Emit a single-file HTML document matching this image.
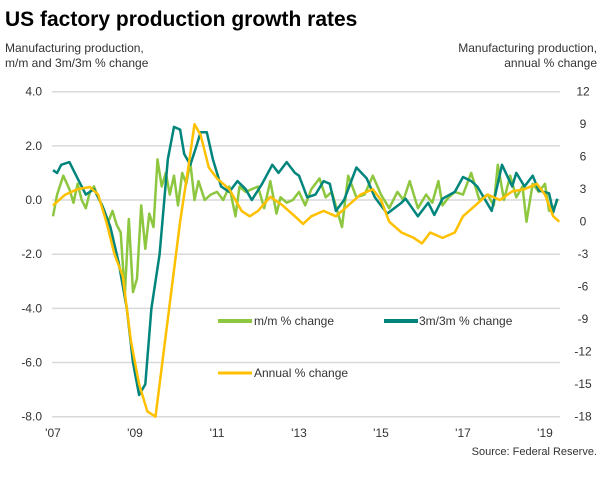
<!DOCTYPE html>
<html><head><meta charset="utf-8"><style>
body{margin:0;background:#fff;width:603px;height:474px;overflow:hidden;font-family:"Liberation Sans",Arial,sans-serif}
svg text{font-family:"Liberation Sans",Arial,sans-serif}
</style></head><body>
<svg id="c" width="603" height="474" xmlns="http://www.w3.org/2000/svg">
<text x="5" y="26" font-size="21" font-weight="bold" fill="#000">US factory production growth rates</text>
<text x="5" y="52" font-size="12" fill="#333">Manufacturing production,</text>
<text x="5" y="67" font-size="12" fill="#333">m/m and 3m/3m % change</text>
<text x="597" y="52" font-size="12" fill="#333" text-anchor="end">Manufacturing production,</text>
<text x="597" y="67" font-size="12" fill="#333" text-anchor="end">annual % change</text>
<text x="597" y="455" font-size="11" fill="#333" text-anchor="end">Source: Federal Reserve.</text>
<g id="grid"></g><g id="series"></g><g id="axes"></g>
<g>
<line x1="218" y1="321" x2="252" y2="321" stroke="#8DC63F" stroke-width="4"/>
<text x="254" y="325" font-size="12" fill="#333">m/m % change</text>
<line x1="384" y1="321" x2="418" y2="321" stroke="#00857C" stroke-width="4"/>
<text x="419" y="325" font-size="12" fill="#333">3m/3m % change</text>
<line x1="218" y1="373" x2="252" y2="373" stroke="#FFC000" stroke-width="3"/>
<text x="254" y="377" font-size="12" fill="#333">Annual % change</text>
</g>
</svg>
<script>
const leftTicks=[4,2,0,-2,-4,-6,-8];
const rightTicks=[12,9,6,3,0,-3,-6,-9,-12,-15,-18];
const xTickYears=[2007,2009,2011,2013,2015,2017,2019];
const xTickLabels=["'07","'09","'11","'13","'15","'17","'19"];
const mmDates=[2007.0,2007.1,2007.25,2007.4,2007.5,2007.6,2007.7,2007.8,2007.9,2008.0,2008.1,2008.25,2008.35,2008.45,2008.55,2008.65,2008.75,2008.85,2008.95,2009.05,2009.15,2009.25,2009.35,2009.45,2009.55,2009.65,2009.75,2009.85,2009.95,2010.05,2010.15,2010.25,2010.35,2010.45,2010.55,2010.7,2010.85,2011.0,2011.15,2011.3,2011.45,2011.55,2011.7,2011.85,2012.0,2012.15,2012.3,2012.45,2012.55,2012.7,2012.85,2013.0,2013.15,2013.3,2013.5,2013.65,2013.8,2014.05,2014.2,2014.4,2014.6,2014.8,2015.0,2015.2,2015.4,2015.55,2015.7,2015.9,2016.1,2016.25,2016.4,2016.5,2016.65,2016.8,2017.0,2017.2,2017.4,2017.6,2017.75,2017.85,2018.0,2018.15,2018.3,2018.45,2018.55,2018.7,2018.85,2019.0,2019.1,2019.25,2019.3];
const mmValues=[-0.6,0.2,0.9,0.4,-0.1,0.6,0.0,-0.3,0.3,0.5,0.1,-0.4,-0.8,-0.4,-0.9,-1.2,-3.5,-0.7,-3.4,-2.9,-0.2,-1.8,-0.5,-1.0,1.5,0.5,1.0,0.2,0.9,-0.2,1.0,0.6,1.4,0.0,0.7,0.0,0.2,0.3,0.0,0.5,-0.6,0.5,0.3,0.4,0.5,-0.3,0.7,-0.5,0.1,-0.1,0.0,0.3,-0.2,0.4,0.8,0.1,0.3,-1.0,0.9,0.1,0.2,0.9,0.2,-0.3,0.3,0.0,0.7,-0.3,0.2,-0.1,0.7,-0.2,0.1,0.3,0.2,1.0,0.0,0.2,-0.2,1.3,0.0,0.9,0.1,0.5,-0.8,0.6,0.3,0.6,-0.4,-0.2,0.0];
const t3Dates=[2007.0,2007.1,2007.2,2007.4,2007.6,2007.8,2008.0,2008.2,2008.4,2008.6,2008.8,2008.95,2009.1,2009.25,2009.4,2009.6,2009.8,2009.95,2010.1,2010.2,2010.35,2010.5,2010.6,2010.75,2010.9,2011.1,2011.3,2011.5,2011.7,2011.85,2012.1,2012.35,2012.5,2012.7,2012.9,2013.0,2013.2,2013.4,2013.6,2013.75,2013.9,2014.1,2014.4,2014.65,2014.85,2015.15,2015.5,2015.6,2015.9,2016.15,2016.3,2016.5,2016.8,2017.0,2017.2,2017.35,2017.7,2017.95,2018.2,2018.3,2018.5,2018.7,2018.85,2019.1,2019.2,2019.3];
const t3Values=[1.1,1.0,1.3,1.4,0.8,0.2,0.4,-0.2,-1.0,-2.3,-4.0,-6.0,-7.2,-6.8,-4.0,-2.0,1.5,2.7,2.6,1.7,1.3,2.0,2.5,2.5,1.5,0.5,0.3,0.7,0.4,0.0,0.6,1.3,1.0,1.4,1.0,0.9,0.1,0.2,0.7,0.6,-0.4,0.0,1.2,0.8,0.1,-0.5,-0.1,0.05,-0.6,-0.1,-0.55,0.05,0.3,0.85,0.7,0.5,-0.4,1.3,0.5,1.0,0.5,0.9,0.35,0.25,-0.45,0.05];
const anDates=[2007.0,2007.3,2007.6,2007.9,2008.1,2008.3,2008.5,2008.7,2008.9,2009.1,2009.3,2009.5,2009.7,2009.9,2010.1,2010.3,2010.45,2010.6,2010.8,2011.0,2011.3,2011.6,2011.8,2012.0,2012.3,2012.6,2012.9,2013.1,2013.3,2013.6,2013.9,2014.2,2014.5,2014.8,2015.0,2015.2,2015.5,2015.8,2016.0,2016.2,2016.5,2016.8,2017.0,2017.3,2017.6,2017.9,2018.2,2018.5,2018.8,2019.0,2019.2,2019.35];
const anValues=[1.5,2.5,3,3.2,2.5,0,-3,-5,-11,-15,-17.5,-18,-12,-6,0,5,9,8,5,4,3,1,0.5,1,2.3,1.5,0.5,-0.2,0.5,1,0.5,1.5,2.5,3,2,0,-1,-1.5,-2,-1,-1.5,-1,0.5,1.5,2.5,2,2.8,3,3.5,2.5,0.5,0];
const X0=53,PX_YR=41,XL=52,XR=560,YT=91.7,YB=416.7;
const xs=d=>X0+(d-2007)*PX_YR;
const yl=v=>YT+(4-v)*(YB-YT)/12;
const yr=v=>YT+(12-v)*(YB-YT)/30;
const NS="http://www.w3.org/2000/svg";
function mk(tag,attrs,parent){const e=document.createElementNS(NS,tag);for(const k in attrs)e.setAttribute(k,attrs[k]);parent.appendChild(e);return e;}
const grid=document.getElementById('grid'),axes=document.getElementById('axes'),ser=document.getElementById('series');
leftTicks.forEach(v=>{
 const l=mk('line',{x1:XL,x2:XR,y1:yl(v),y2:yl(v),stroke:'#d9d9d9','stroke-width':1.5},grid);
 
 
 const t=mk('text',{x:42,y:yl(v)+4,'font-size':12,fill:'#333','text-anchor':'end'},axes);
 t.textContent=v.toFixed(1);
 
 
});
rightTicks.forEach(v=>{
 const t=mk('text',{x:583,y:yr(v)+4,'font-size':12,fill:'#333','text-anchor':'middle'},axes);
 t.textContent=v;
 
 
});
xTickYears.forEach((y,i)=>{
 const t=mk('text',{x:xs(y),y:437,'font-size':12,fill:'#333','text-anchor':'middle'},axes);
 t.textContent=xTickLabels[i];
 
 
});
function line(d,v,yf,col,w,name){
 const p=mk('polyline',{points:d.map((x,i)=>xs(x).toFixed(1)+','+yf(v[i]).toFixed(1)).join(' '),fill:'none',stroke:col,'stroke-width':w,'stroke-linejoin':'round'},ser);
 
 
}
line(mmDates,mmValues,yl,'#8DC63F',2.5,'mm-series-line');
line(t3Dates,t3Values,yl,'#00857C',2.5,'3m3m-series-line');
line(anDates,anValues,yr,'#FFC000',2.5,'annual-series-line');
</script>
</body></html>
